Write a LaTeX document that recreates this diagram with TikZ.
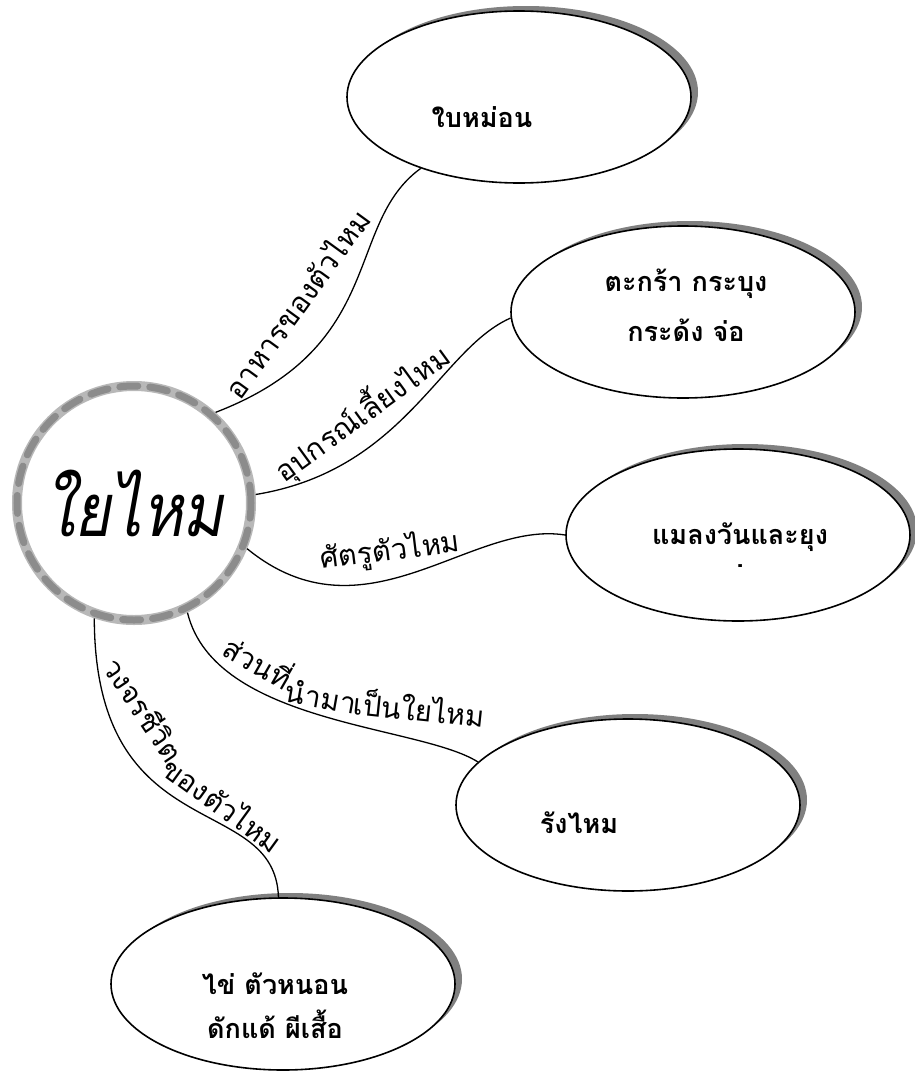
\documentclass[tikz,border=0pt]{standalone}
\usepackage{fontspec}
\usetikzlibrary{shapes.geometric, shadows}
\newfontfamily\thaifont[Script=Thai]{Loma}
\newfontfamily\hubfont[Script=Thai, FakeStretch=0.84]{Loma}
\tikzset{
  leaf/.style={ellipse, draw, line width=1.6, fill=white, minimum width=344, minimum height=172, inner sep=0,
    drop shadow={shadow xshift=7, shadow yshift=-5, fill=black!50, opacity=1}},
  leaftext/.style={font=\thaifont\bfseries\fontsize{27}{44}\selectfont, align=center, inner sep=0},
  twig/.style={line width=1.3},
  twiglabel/.style={font=\thaifont\fontsize{29}{34}\selectfont, inner sep=0},
  hub/.style={circle, minimum size=234, draw=black!28, line width=10, fill=white,
    postaction={draw=black!45, line width=7, dash pattern=on 18 off 12, line cap=round},
    font=\hubfont\itshape\fontsize{74}{80}\selectfont}
}

\begin{document}
\begin{tikzpicture}[x=1pt, y=-1pt]
  \useasboundingbox (0,0) rectangle (914,1071);
  % centre
  \node[hub] (silk) at (134,503) {ใยไหม};
  % leaves
  \node[leaf] (food) at (519,97) {};
  \node[leaftext, xshift=-37, yshift=-20] (foodtxt) at (food) {ใบหม่อน};
  \node[leaf] (tools) at (683,312) {};
  \node[leaftext, xshift=3, yshift=7] (toolstxt) at (tools) {ตะกร้า กระบุง\\[6pt]กระด้ง จ่อ};
  \node[leaf] (pests) at (738,535) {};
  \node[leaftext, xshift=2, yshift=-10] (peststxt) at (pests) {แมลงวันและยุง\\[-21pt].};
  \node[leaf] (cocoon) at (628,805) {};
  \node[leaftext, xshift=-49, yshift=-18] (cocoontxt) at (cocoon) {รังไหม};
  \node[leaf] (cycle) at (283,984) {};
  \node[leaftext, xshift=-8, yshift=-22] (cycletxt) at (cycle) {ไข่ ตัวหนอน\\ดักแด้ ผีเสื้อ};
  % connectors
  \draw[twig] (silk.48) .. controls (388,346) and (344,224) .. (food.216);
  \draw[twig] (silk.4) .. controls (405,470) and (440,349) .. (tools.182);
  \draw[twig] (silk.-22) .. controls (365,645) and (470,520) .. (pests.180);
  \draw[twig] (silk.-64) .. controls (215,725) and (420,725) .. (cocoon.164);
  \draw[twig] (silk.251) .. controls (95,850) and (275,790) .. (cycle.93);
  % labels
  \node[twiglabel, rotate=54] (foodlbl) at (296,303) {อาหารของตัวไหม};
  \node[twiglabel, rotate=36] (toolslbl) at (362,413) {อุปกรณ์เลี้ยงไหม};
  \node[twiglabel, rotate=7] (pestslbl) at (390,551) {ศัตรูตัวไหม};
  \node[twiglabel, anchor=base, rotate=-30] (cocoonlbl1) at (252,673) {ส่วนที่};
  \node[twiglabel, anchor=base, rotate=-10] (cocoonlbl2) at (319,708) {นำมา};
  \node[twiglabel, anchor=base, rotate=-6] (cocoonlbl3) at (418,721) {เป็นใยไหม};
  \node[twiglabel, anchor=base, rotate=-56] (cyclelbl1) at (134,716) {วงจรชีวิต};
  \node[twiglabel, anchor=base, rotate=-36] (cyclelbl2) at (216,814) {ของตัวไหม};
\end{tikzpicture}
\end{document}
